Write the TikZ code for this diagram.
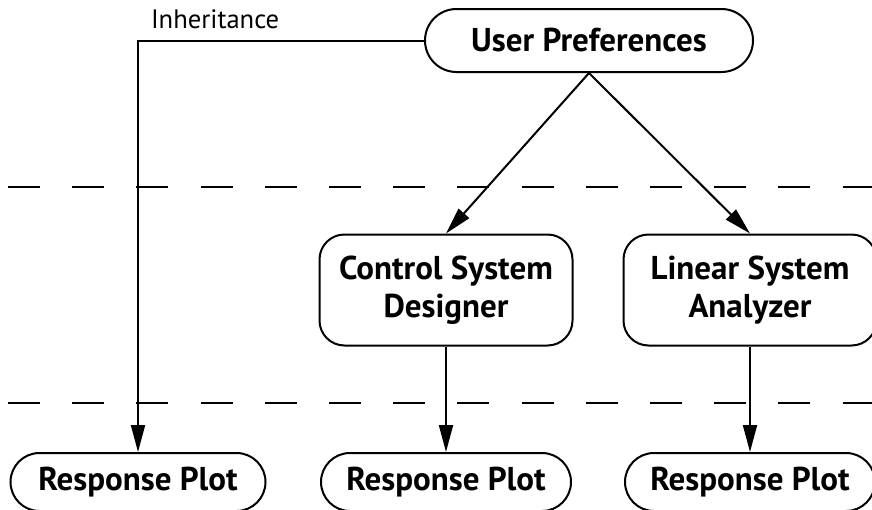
\documentclass[tikz,border=0pt]{standalone}
\usepackage{fontspec}
\setmainfont{PT Sans}
\usetikzlibrary{arrows.meta,shapes.misc}

\begin{document}
\begin{tikzpicture}[x=0.5pt,y=-0.5pt,line width=1pt,
  pill/.style={rounded rectangle,draw,font=\fontsize{16.5}{19}\selectfont\bfseries,inner sep=0pt},
  box/.style={rectangle,draw,rounded corners=12.5pt,align=center,font=\fontsize{16.5}{19}\selectfont\bfseries,
    minimum width=126.5pt,minimum height=55.5pt,inner sep=0pt},
  tip/.style={-{Triangle[length=13.5pt,width=7pt]}},
  sep/.style={dash pattern=on 16pt off 16.1pt}]
\useasboundingbox (0,0) rectangle (872,509);

\node[pill,minimum width=164pt,minimum height=31.5pt] (up) at (589,40.5) {User Preferences};
\node[box] (csd) at (446,290) {Control System\\Designer};
\node[box] (lsa) at (750,290) {Linear System\\Analyzer};
\node[pill,minimum width=127.5pt,minimum height=29pt] (rp1) at (138,482) {Response Plot};
\node[pill,minimum width=125pt,minimum height=29pt] (rp2) at (446,482) {Response Plot};
\node[pill,minimum width=125pt,minimum height=29pt] (rp3) at (750,482) {Response Plot};

\draw[sep] (8,187) -- (872,187);
\draw[sep] (8,403) -- (872,403);

\draw[tip] (up.south) -- (csd.north);
\draw[tip] (up.south) -- (lsa.north);
\draw[tip] (csd.south) -- (rp2.north);
\draw[tip] (lsa.south) -- (rp3.north);
\draw[tip] (up.west) -| (rp1.north);

\node[font=\fontsize{13.3}{16}\selectfont,anchor=base west,inner sep=0pt] (inh) at (150,28) {Inheritance};
\end{tikzpicture}
\end{document}
